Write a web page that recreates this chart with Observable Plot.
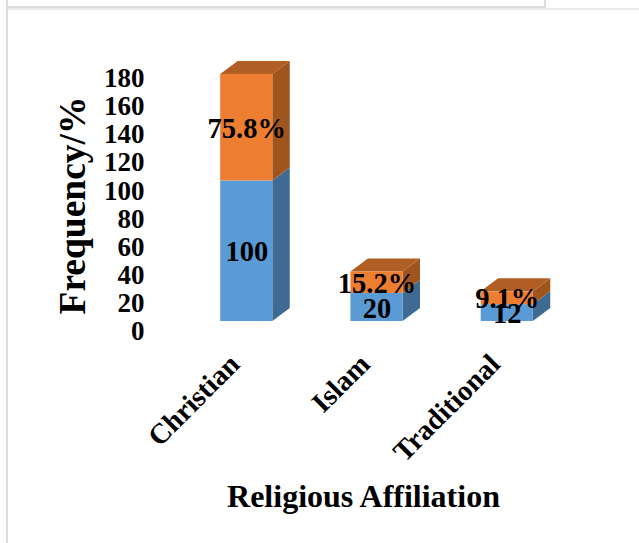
<!DOCTYPE html>
<html>
<head>
<meta charset="utf-8">
<script src="https://cdn.jsdelivr.net/npm/d3@7"></script>
<script src="https://cdn.jsdelivr.net/npm/@observablehq/plot@0.6"></script>
<style>
  html, body { margin: 0; padding: 0; background: #fff; }
  #page { position: relative; width: 639px; height: 543px; overflow: hidden; }
  #page svg { display: block; position: absolute; left: 0; top: 0; background: transparent; }
  .rule { position: absolute; }
</style>
</head>
<body>
<div id="page">
  <div class="rule" style="left:6px;top:0;width:2px;height:543px;background:#dcdcdc"></div>
  <div class="rule" style="left:8px;top:6px;width:536px;height:2px;background:#dcdcdc"></div>
  <div class="rule" style="left:544px;top:0;width:2px;height:9px;background:#dcdcdc"></div>
  <div class="rule" style="left:546px;top:8px;width:93px;height:1px;background:#dcdcdc"></div>
  <div class="rule" style="left:8px;top:8px;width:631px;height:2px;background:#ebebeb"></div>
</div>
<script>
const categories = ["Christian", "Islam", "Traditional"];
const frequencyValues = [100, 20, 12];
const percentValues = [75.8, 15.2, 9.1];
const yTicks = d3.range(0, 181, 20);

const serif = "'Liberation Serif', 'Times New Roman', serif";
const blue = "#5b9bd5", blueSide = "#3f6a91";
const orange = "#ed7d31", orangeSide = "#a0551f", orangeTop = "#b05e23";

// Extruded column shape, in scale units
const halfWidth = 0.2;
const depthX = 0.134;
const depthY = 9.25;

const segments = categories.flatMap((name, i) => [
  {i, name, base: 0, top: frequencyValues[i], label: String(frequencyValues[i]), fill: blue, side: blueSide},
  {i, name, base: frequencyValues[i], top: frequencyValues[i] + percentValues[i], label: percentValues[i] + "%", fill: orange, side: orangeSide}
]);

// Right-hand face of each segment: a parallelogram running back from the front edge
const sideFaces = segments.flatMap((s, k) => [0, 1].map(t => ({
  k, side: s.side,
  x: s.i + halfWidth + t * depthX,
  y1: s.base + t * depthY,
  y2: s.top + t * depthY
})));

// Top face of each column
const topFaces = categories.flatMap((name, i) => [0, 1].map(t => ({
  i,
  y: frequencyValues[i] + percentValues[i] + t * depthY,
  x1: i - halfWidth + t * depthX,
  x2: i + halfWidth + t * depthX
})));

const chart = Plot.plot({
  width: 639,
  height: 543,
  marginLeft: 147,
  marginRight: 0,
  marginTop: 68,
  marginBottom: 222,
  style: {background: "transparent", fontFamily: serif, color: "#000", overflow: "visible"},
  x: {type: "linear", domain: [0, 2], range: [246.25, 506.75]},
  y: {domain: [0, 180]},
  marks: [
    Plot.areaY(sideFaces, {x: "x", y1: "y1", y2: "y2", z: "k", fill: "side"}),
    Plot.areaX(topFaces, {y: "y", x1: "x1", x2: "x2", z: "i", fill: orangeTop}),
    Plot.rect(segments, {
      x1: d => d.i - halfWidth,
      x2: d => d.i + halfWidth,
      y1: "base",
      y2: "top",
      fill: "fill"
    }),
    Plot.text(segments, {
      x: "i",
      y: d => (d.base + d.top) / 2,
      text: "label",
      dy: 1,
      fontSize: 28.5,
      fontWeight: "bold",
      fontFamily: serif,
      fill: "#000"
    }),
    Plot.axisY({
      ticks: yTicks,
      tickSize: 0,
      tickPadding: 3,
      dy: 10,
      label: null,
      fontSize: 27,
      fontWeight: "bold",
      fontFamily: serif,
      fill: "#000"
    }),
    Plot.axisX({
      ticks: [0, 1, 2],
      tickFormat: i => categories[i],
      tickRotate: -45,
      tickSize: 0,
      tickPadding: 0,
      dx: -12,
      dy: 38,
      label: null,
      fontSize: 28.5,
      fontWeight: "bold",
      fontFamily: serif,
      fill: "#000"
    }),
    Plot.text(["Frequency/%"], {
      frameAnchor: "left",
      textAnchor: "middle",
      rotate: -90,
      dx: -75,
      dy: 10.5,
      fontSize: 37.5,
      fontWeight: "bold",
      fontFamily: serif,
      fill: "#000"
    }),
    Plot.text(["Religious Affiliation"], {
      frameAnchor: "bottom",
      dx: -30,
      dy: 185,
      fontSize: 32,
      fontWeight: "bold",
      fontFamily: serif,
      fill: "#000"
    })
  ]
});

document.getElementById("page").appendChild(chart);
</script>
</body>
</html>
